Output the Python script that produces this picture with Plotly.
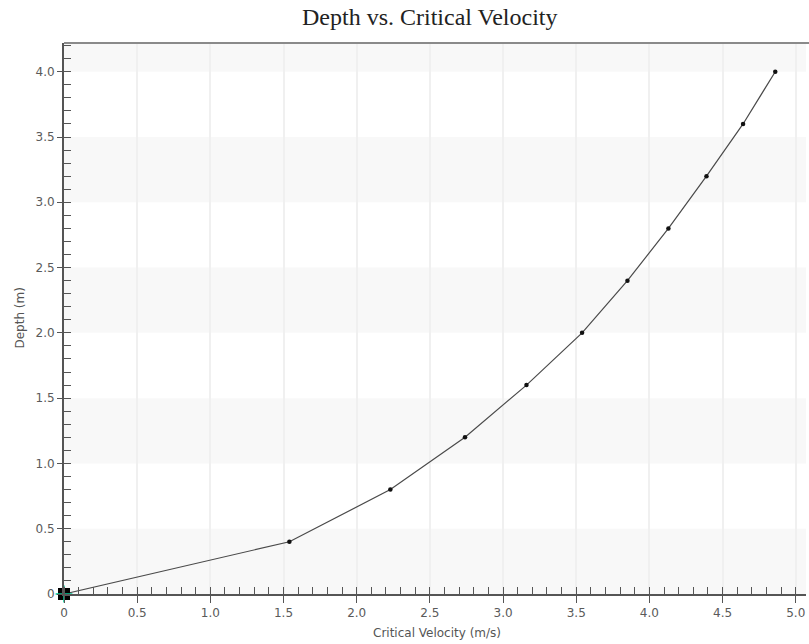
import plotly.graph_objects as go

velocity = [0.0, 1.54, 2.23, 2.74, 3.16, 3.54, 3.85, 4.13, 4.39, 4.64, 4.86]
depth = [0.0, 0.4, 0.8, 1.2, 1.6, 2.0, 2.4, 2.8, 3.2, 3.6, 4.0]

x_ticks = [0, 0.5, 1.0, 1.5, 2.0, 2.5, 3.0, 3.5, 4.0, 4.5, 5.0]
x_labels = ["0", "0.5", "1.0", "1.5", "2.0", "2.5", "3.0", "3.5", "4.0", "4.5", "5.0"]
y_ticks = [0, 0.5, 1.0, 1.5, 2.0, 2.5, 3.0, 3.5, 4.0]
y_labels = ["0", "0.5", "1.0", "1.5", "2.0", "2.5", "3.0", "3.5", "4.0"]

X_MAX = 5.07
Y_MAX = 4.22

fig = go.Figure()

fig.add_trace(go.Scatter(
    x=velocity, y=depth, mode="lines+markers",
    line=dict(color="#4a4a4a", width=1.2),
    marker=dict(symbol="circle", size=4.5, color="#111111"),
    showlegend=False, cliponaxis=False,
))
# origin marker
fig.add_trace(go.Scatter(
    x=[velocity[0]], y=[depth[0]], mode="markers",
    marker=dict(symbol="square", size=12, color="#000000"),
    showlegend=False, cliponaxis=False,
))
fig.add_trace(go.Scatter(
    x=[velocity[0]], y=[depth[0]], mode="markers",
    marker=dict(symbol="cross-thin-open", size=12, line=dict(color="white", width=1.5)),
    showlegend=False, cliponaxis=False,
))

shapes = []
b = 0.0
i = 0
while b < Y_MAX:
    if i % 2 == 0:
        shapes.append(dict(type="rect", xref="x", yref="y", x0=0, x1=X_MAX,
                           y0=b, y1=min(b + 0.5, Y_MAX), fillcolor="#f8f8f8",
                           line=dict(width=0), layer="below"))
    b += 0.5
    i += 1
# top border
shapes.append(dict(type="line", xref="paper", yref="paper", x0=0, x1=1.01, y0=1, y1=1,
                   line=dict(color="#8a8a8a", width=2)))

annotations = [
    dict(text="Depth vs. Critical Velocity", xref="paper", yref="paper",
         x=(430 - 64) / 742, y=1 + 26 / 551, xanchor="center", yanchor="middle",
         showarrow=False, font=dict(family="Liberation Serif", size=24, color="#222222")),
    dict(text="Critical Velocity (m/s)", xref="paper", yref="paper",
         x=(437 - 64) / 742, y=-(633 - 594) / 551, xanchor="center", yanchor="middle",
         showarrow=False, font=dict(family="DejaVu Sans", size=12, color="#555555")),
    dict(text="Depth (m)", xref="paper", yref="paper", textangle=-90,
         x=-(64 - 19) / 742, y=0.5, xanchor="center", yanchor="middle",
         showarrow=False, font=dict(family="DejaVu Sans", size=12, color="#555555")),
]

fig.update_layout(
    width=809, height=644,
    margin=dict(l=64, r=3, t=43, b=50),
    paper_bgcolor="white", plot_bgcolor="white",
    shapes=shapes, annotations=annotations,
    font=dict(family="DejaVu Sans", size=12, color="#555555"),
)

fig.update_xaxes(
    range=[0, X_MAX], tickvals=x_ticks, ticktext=x_labels, automargin=False,
    showline=True, linecolor="#555555", linewidth=2,
    ticks="outside", ticklen=7, tickcolor="#555555", tickwidth=1.2,
    showgrid=True, gridcolor="#f0f0f0", gridwidth=2,
    minor=dict(dtick=0.1, ticks="inside", ticklen=7, tickcolor="#555555", showgrid=False),
    zeroline=False,
    tickfont=dict(family="DejaVu Sans", size=12, color="#5a5a5a"),
)
fig.update_yaxes(
    range=[0, Y_MAX], tickvals=y_ticks, ticktext=y_labels, automargin=False,
    showline=True, linecolor="#555555", linewidth=2,
    ticks="outside", ticklen=5, tickcolor="#555555", tickwidth=1.2,
    showgrid=False,
    minor=dict(dtick=0.1, ticks="inside", ticklen=7, tickcolor="#555555", showgrid=False),
    zeroline=False,
    tickfont=dict(family="DejaVu Sans", size=12, color="#5a5a5a"),
)

fig.write_html("out.html", config={"displayModeBar": False},
               post_script="document.body.style.margin='0';document.body.style.overflow='hidden';")
